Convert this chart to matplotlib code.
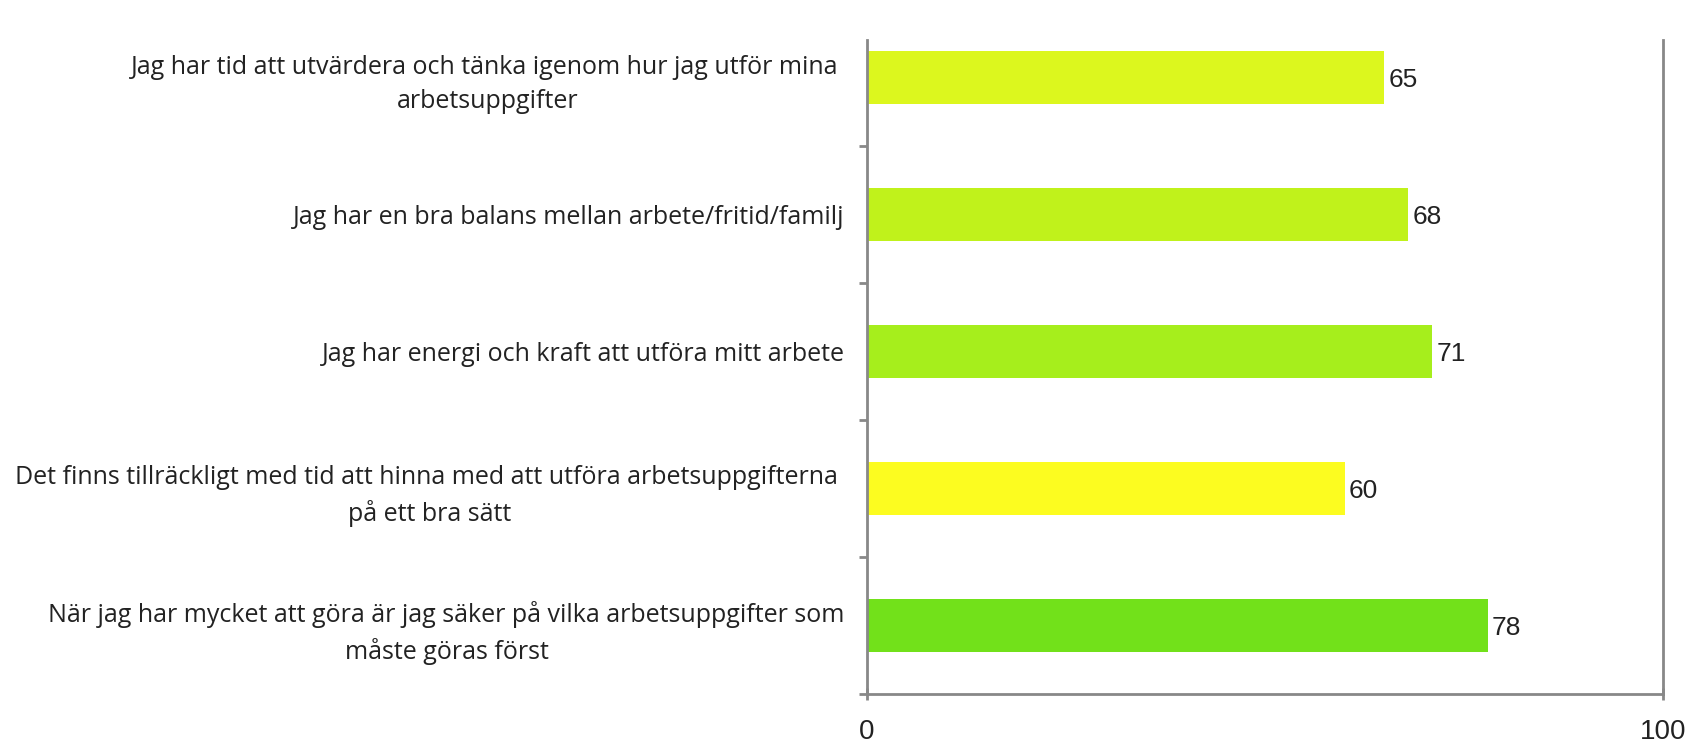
import numpy as np
import matplotlib.pyplot as plt

# Data
labels = [
    "Jag har tid att utvärdera och tänka igenom hur jag utför mina \narbetsuppgifter",
    "Jag har en bra balans mellan arbete/fritid/familj",
    "Jag har energi och kraft att utföra mitt arbete",
    "Det finns tillräckligt med tid att hinna med att utföra arbetsuppgifterna \npå ett bra sätt",
    "När jag har mycket att göra är jag säker på vilka arbetsuppgifter som\nmåste göras först",
]
values = [65, 68, 71, 60, 78]
colors = ["#DCF71E", "#C0F21B", "#A6EE1C", "#FCFC20", "#72E11A"]
xticks = [0, 100]

fig = plt.figure(figsize=(16.98, 7.48), dpi=100)
ax = fig.add_axes([0.5106, 0.0722, 0.4688, 0.9158])

y = np.arange(len(values))
ax.barh(y, values, height=0.39, color=colors)

for yi, v in zip(y, values):
    ax.text(v + 0.5, yi + 0.02, str(v), va="center", ha="left",
            fontsize=19, family="Liberation Sans", color="#222222")

ax.set_xlim(0, 100)
ax.set_ylim(4.5, -0.5)

# spines
ax.spines["top"].set_visible(False)
for s in ["left", "right", "bottom"]:
    ax.spines[s].set_color("#888888")
    ax.spines[s].set_linewidth(2)
ax.spines["left"].set_bounds(4.5, -0.27)
ax.spines["right"].set_bounds(4.5, -0.27)

# category ticks at boundaries, labels at centers
ax.set_yticks(np.arange(0.5, 4.6, 1.0))
ax.set_yticklabels([])
ax.tick_params(axis="y", length=6, width=2, color="#888888", direction="out")
ax.set_yticks(y, minor=True)
ax.set_yticklabels(labels, minor=True, fontsize=18, family="Open Sans",
                   color="#222222", ha="right", multialignment="center",
                   linespacing=1.45)
ax.tick_params(axis="y", which="minor", length=0, pad=16)

ax.set_xticks(xticks)
ax.set_xticklabels([str(t) for t in xticks], fontsize=20, family="Liberation Sans",
                   color="#222222")
ax.tick_params(axis="x", length=8, width=2, color="#888888", direction="inout", pad=14)

fig.savefig("out.png", dpi=100)
